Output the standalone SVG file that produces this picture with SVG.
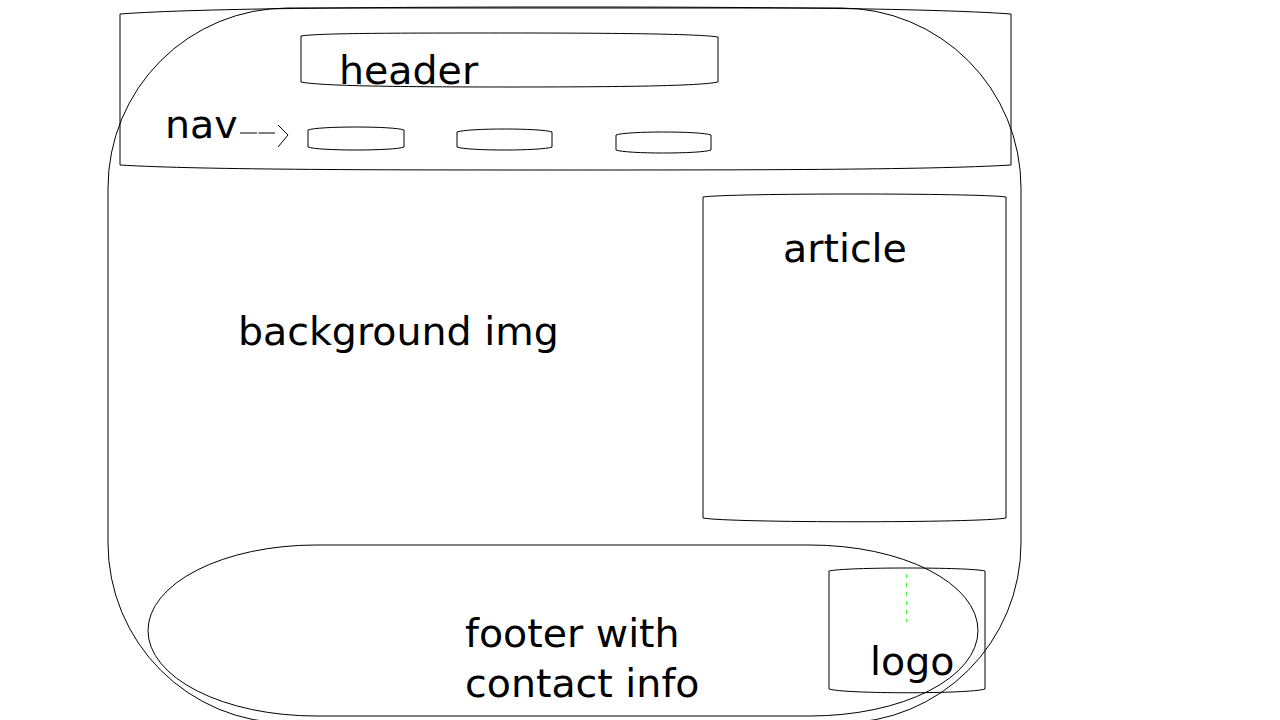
<svg xmlns="http://www.w3.org/2000/svg" width="1280" height="720" viewBox="0 0 1280 720">
<style>
.s{fill:none;stroke:#000;stroke-width:1}
.t{font-family:"DejaVu Sans",sans-serif;font-size:39.5px;fill:#000}
</style>
<rect width="1280" height="720" fill="#fff"/>
<g id="page"><rect class="s" x="108" y="8" width="913" height="715" rx="180" ry="180"/></g>
<g id="nav-bar"><path class="s" d="M120,14 C200,8 400,7 565,7 C730,7 930,8 1011,14 L1011,165 C930,170 730,170 565,170 C400,170 200,170 120,165 Z"/></g>
<g id="header"><path class="s" d="M301,36 C320,33 400,33 510,33 C620,33 700,34 718,37 L718,82 C700,86 620,87 510,87 C400,87 320,86 301,82 Z"/><text class="t" x="339" y="84">header</text></g>
<g id="nav"><text class="t" x="165" y="138">nav</text></g>
<g id="nav-btn1"><path class="s" d="M308,130 C318,126 394,126 404,130 L404,147 C394,151 318,151 308,147 Z"/></g>
<g id="nav-btn2"><path class="s" d="M457,132 C467,128 542,128 552,132 L552,147 C542,151 467,151 457,147 Z"/></g>
<g id="nav-btn3"><path class="s" d="M616,135 C626,131 701,131 711,135 L711,150 C701,154 626,154 616,150 Z"/></g>
<g id="article"><path class="s" d="M703,197 C730,193 980,193 1006,197 L1006,518 C980,523 730,523 703,518 Z"/><text class="t" x="783" y="262">article</text></g>
<g id="background"><text class="t" x="238" y="345">background img</text></g>
<g id="footer"><rect class="s" x="148" y="545" width="830" height="171" rx="168" ry="85.5"/><text class="t" x="465" y="647">footer with</text><text class="t" x="465" y="697">contact info</text></g>
<g id="logo"><path class="s" d="M829,571 C845,567 970,567 985,571 L985,689 C970,694 845,694 829,689 Z"/><text class="t" x="870" y="675">logo</text></g>
<g id="connectors">
<line x1="240" y1="133" x2="275" y2="133" stroke="#000" stroke-width="1" stroke-dasharray="17,1.5"/>
<polyline points="278,125 288,135 278,147" fill="none" stroke="#000" stroke-width="1"/>
<line x1="906.5" y1="574" x2="906.5" y2="622" stroke="#44ff44" stroke-width="1" stroke-dasharray="4,5"/>
</g>
</svg>
